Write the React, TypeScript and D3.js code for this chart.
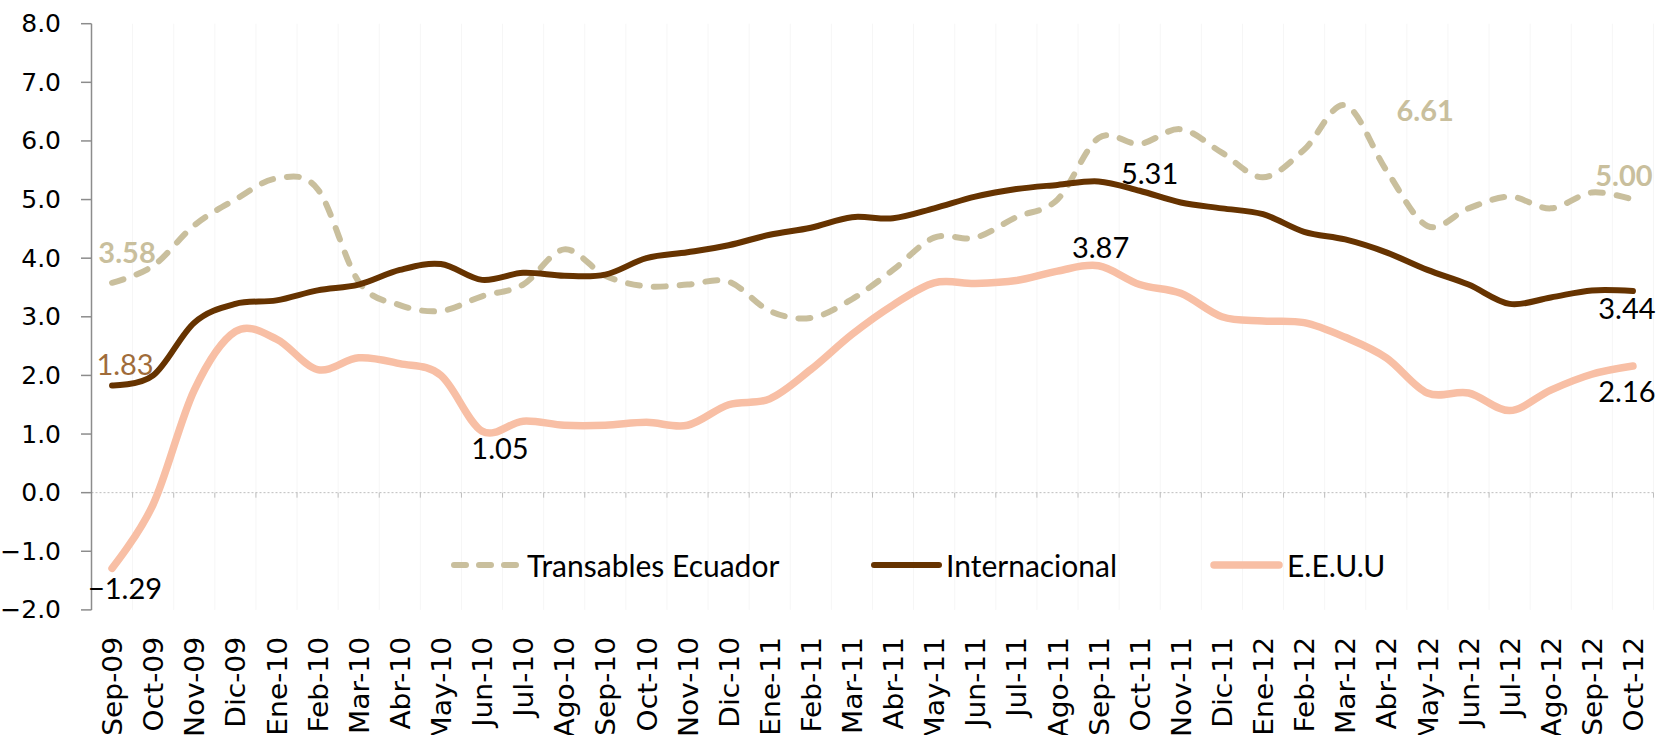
import React from "react";
import * as d3 from "d3";

const width = 1662;
const height = 735;

const categories = [
  "Sep-09", "Oct-09", "Nov-09", "Dic-09", "Ene-10", "Feb-10", "Mar-10", "Abr-10",
  "May-10", "Jun-10", "Jul-10", "Ago-10", "Sep-10", "Oct-10", "Nov-10", "Dic-10",
  "Ene-11", "Feb-11", "Mar-11", "Abr-11", "May-11", "Jun-11", "Jul-11", "Ago-11",
  "Sep-11", "Oct-11", "Nov-11", "Dic-11", "Ene-12", "Feb-12", "Mar-12", "Abr-12",
  "May-12", "Jun-12", "Jul-12", "Ago-12", "Sep-12", "Oct-12",
];

const transables = [
  3.58, 3.87, 4.56, 5.0, 5.36, 5.18, 3.6, 3.2, 3.1, 3.35, 3.55, 4.15, 3.7, 3.52,
  3.55, 3.6, 3.1, 2.98, 3.3, 3.8, 4.35, 4.35, 4.7, 5.0, 6.05, 5.95, 6.2, 5.8,
  5.38, 5.85, 6.61, 5.5, 4.55, 4.85, 5.05, 4.85, 5.12, 5.0,
];

const internacional = [
  1.83, 2.0, 2.9, 3.22, 3.28, 3.45, 3.55, 3.8, 3.9, 3.63, 3.75, 3.7, 3.72, 4.0,
  4.1, 4.22, 4.4, 4.52, 4.7, 4.68, 4.85, 5.05, 5.18, 5.25, 5.31, 5.15, 4.95, 4.85,
  4.75, 4.45, 4.32, 4.1, 3.8, 3.55, 3.22, 3.33, 3.45, 3.44,
];

const eeuu = [
  -1.29, -0.2, 1.75, 2.75, 2.62, 2.1, 2.3, 2.2, 2.0, 1.05, 1.22, 1.15, 1.15, 1.2,
  1.15, 1.5, 1.6, 2.1, 2.7, 3.2, 3.58, 3.57, 3.62, 3.78, 3.87, 3.55, 3.4, 3.0,
  2.93, 2.9, 2.65, 2.3, 1.7, 1.7, 1.4, 1.75, 2.02, 2.16,
];

const yTicks = [-2, -1, 0, 1, 2, 3, 4, 5, 6, 7, 8];

const series = [
  { name: "Transables Ecuador", values: transables, color: "#C9BF9D", width: 6, dash: "12 14" },
  { name: "Internacional", values: internacional, color: "#663300", width: 6, dash: null },
  { name: "E.E.U.U", values: eeuu, color: "#F8BFA5", width: 7.5, dash: null },
];

// data labels: which series / point, plus offset of the label centre
const labels = [
  { s: 0, i: 0, dx: 15, dy: -31, color: "#C9BF9D", bold: true },
  { s: 1, i: 0, dx: 13, dy: -22, color: "#A06C3A", bold: false },
  { s: 2, i: 0, dx: 13, dy: 19, color: "#000", bold: false },
  { s: 2, i: 9, dx: 18, dy: 16, color: "#000", bold: false },
  { s: 2, i: 24, dx: 2, dy: -19, color: "#000", bold: false },
  { s: 1, i: 24, dx: 51, dy: -9, color: "#000", bold: false },
  { s: 0, i: 30, dx: 80, dy: 4, color: "#C9BF9D", bold: true },
  { s: 0, i: 37, dx: -9, dy: -25, color: "#C9BF9D", bold: true },
  { s: 1, i: 37, dx: -6, dy: 16, color: "#000", bold: false },
  { s: 2, i: 37, dx: -6, dy: 24, color: "#000", bold: false },
];

const legendItems = [
  { x1: 454, x2: 519, tx: 527 },
  { x1: 874, x2: 939, tx: 946 },
  { x1: 1214, x2: 1279, tx: 1287 },
];

const labelFont = "Lato, 'Open Sans', sans-serif";
const axisFont = "'DejaVu Sans', Verdana, sans-serif";

export default function App() {
  const x = d3.scaleBand().domain(categories).range([91.5, 1653.5]);
  const bw = x.bandwidth();
  const cx = (c: string) => (x(c) as number) + bw / 2;
  const y = d3.scaleLinear().domain([-2, 8]).range([609.9, 23.7]);
  const fmt = d3.format(".1f");
  const fmt2 = d3.format(".2f");

  const line = (vals: number[]) =>
    d3
      .line<number>()
      .x((_, i) => cx(categories[i]))
      .y((d) => y(d))
      .curve(d3.curveCatmullRom.alpha(0))(vals) as string;

  const bounds = categories.map((c) => x(c) as number).concat([x.range()[1]]);
  const y0 = y(0);

  return (
    <svg width={width} height={height} style={{ position: "absolute", left: 0, top: 0, background: "#fff" }}>
      {/* faint vertical grid */}
      {bounds.map((b, i) => (
        <line key={"g" + i} x1={b} x2={b} y1={y(8)} y2={y(-2)} stroke="#f6f6f6" strokeWidth={1} />
      ))}
      {/* zero line + category ticks */}
      <line x1={x.range()[0]} x2={x.range()[1]} y1={y0} y2={y0} stroke="#bdbdbd" strokeWidth={1} strokeDasharray="2 2" />
      {bounds.map((b, i) => (
        <line key={"t" + i} x1={b} x2={b} y1={y0} y2={y0 + 5} stroke="#bdbdbd" strokeWidth={1} />
      ))}
      {/* y axis */}
      <line x1={91.5} x2={91.5} y1={y(8)} y2={y(-2)} stroke="#8c8c8c" strokeWidth={1.5} />
      {yTicks.map((t) => (
        <g key={"y" + t}>
          <line x1={81} x2={91.5} y1={y(t)} y2={y(t)} stroke="#8c8c8c" strokeWidth={1.5} />
          <text x={61} y={y(t)} textAnchor="end" dominantBaseline="central" fontFamily={axisFont} fontSize={25} fill="#000">
            {fmt(t)}
          </text>
        </g>
      ))}
      {/* x labels */}
      {categories.map((c) => (
        <text
          key={c}
          transform={`translate(${cx(c) + 1},637) rotate(-90) scale(1.08,1)`}
          textAnchor="end"
          dominantBaseline="central"
          fontFamily={axisFont}
          fontSize={26}
          fill="#000"
        >
          {c}
        </text>
      ))}
      {/* lines */}
      {series.map((s) => (
        <path
          key={s.name}
          d={line(s.values)}
          fill="none"
          stroke={s.color}
          strokeWidth={s.width}
          strokeLinecap="round"
          strokeLinejoin="round"
          strokeDasharray={s.dash || undefined}
        />
      ))}
      {/* data labels */}
      {labels.map((l, k) => {
        const v = series[l.s].values[l.i];
        return (
          <text
            key={"l" + k}
            x={cx(categories[l.i]) + l.dx}
            y={y(v) + l.dy}
            textAnchor="middle"
            dominantBaseline="central"
            fontFamily={labelFont}
            fontSize={29}
            fontWeight={l.bold ? 700 : 400}
            fill={l.color}
          >
            {fmt2(v)}
          </text>
        );
      })}
      {/* legend */}
      {series.map((s, i) => {
        const it = legendItems[i];
        return (
          <g key={"lg" + i}>
            <line
              x1={it.x1}
              x2={it.x2}
              y1={565}
              y2={565}
              stroke={s.color}
              strokeWidth={s.width}
              strokeLinecap="round"
              strokeDasharray={s.dash ? "12 13" : undefined}
            />
            <text x={it.tx} y={565} dominantBaseline="central" fontFamily={labelFont} fontSize={30} fill="#000">
              {s.name}
            </text>
          </g>
        );
      })}
    </svg>
  );
}
